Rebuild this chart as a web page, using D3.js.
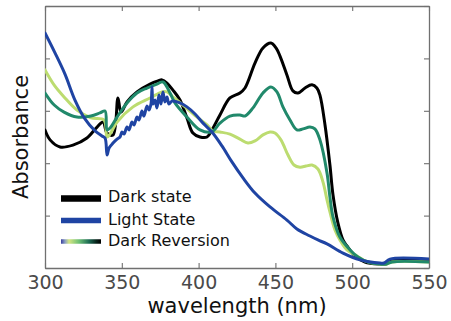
<!DOCTYPE html>
<html>
<head>
<meta charset="utf-8">
<script src="https://cdn.jsdelivr.net/npm/d3@7"></script>
<style>
  html, body { margin: 0; padding: 0; background: #fff; }
  svg { display: block; font-family: "DejaVu Sans", sans-serif; }
</style>
</head>
<body>
<svg id="chart" width="451" height="321"></svg>
<script>
// ---- data (wavelength nm, absorbance a.u.) ----
const xTicks = [300, 350, 400, 450, 500, 550];
const yTicks = [0, 0.2, 0.4, 0.6, 0.8, 1.0];
const seriesNames = ["Dark state", "Light State", "Dark Reversion"];

const darkWl  = [300,303.3,309.8,318.2,327.3,333.9,337.8,340.4,344.3,347.5,349.5,353.4,359.9,368.4,373.6,376.2,379.4,383.3,387.9,392.4,396.3,400.9,405.5,408.7,413.9,420.4,426.9,430.2,436.7,441.9,447.1,450.4,453,457.5,461.4,464.7,469.3,473.8,477,479,482.3,485.5,487.5,490.7,494,496.6,501.8,508.3,518.1,522,525.9,550];
const darkAbs = [.527,.489,.462,.469,.496,.538,.557,.515,.508,.649,.595,.634,.672,.702,.714,.718,.706,.679,.641,.573,.515,.500,.500,.527,.584,.649,.668,.687,.782,.840,.859,.840,.809,.737,.676,.668,.687,.699,.687,.660,.546,.393,.279,.172,.107,.084,.046,.023,.015,.015,.027,.027];

const lightWl  = [300,306.5,313,319.5,326,332.6,337.1,339.1,340.4,341.7,344.3,346.9,348.8,350.1,351.4,353.4,354.7,356.6,357.9,359.9,361.2,363.1,364.4,366.4,367.7,369,369.7,370.3,371.6,372.9,374.2,375.5,376.8,378.1,379.4,380.7,382.7,387.9,392.4,397.7,402.9,408.7,415.2,421.7,428.9,436.7,446.5,457.5,464,472.5,477.7,483.6,494,505.1,518.1,520.7,524.6,550];
const lightAbs = [.897,.821,.740,.641,.569,.523,.504,.496,.431,.458,.477,.492,.500,.519,.511,.538,.527,.557,.546,.576,.565,.599,.580,.618,.603,.626,.691,.626,.641,.611,.660,.626,.672,.634,.653,.626,.637,.630,.615,.588,.553,.519,.466,.405,.344,.286,.233,.183,.149,.122,.107,.092,.057,.031,.019,.019,.034,.034];

const revLateWl  = [300,306,312.4,320.8,329.9,335.8,339.1,340.4,342.3,346.9,353.4,359.9,366.4,372.9,376.8,381.4,384.6,392.4,400.9,408.7,413.9,420.4,426.9,430.2,435.4,441.9,447.1,451,454.9,459.5,464,468,472.5,475.7,479,483.6,485.5,487.5,492,498.6,503.7,510.3,518.1,522,525.9,550];
const revLateAbs = [.668,.622,.595,.576,.580,.592,.599,.527,.534,.576,.630,.668,.687,.702,.710,.668,.630,.576,.527,.520,.553,.580,.584,.580,.611,.668,.691,.672,.615,.565,.527,.531,.538,.531,.489,.363,.271,.195,.118,.069,.042,.023,.015,.015,.023,.023];

const revEarlyWl  = [300,306,312.4,320.8,329.9,338.4,340.4,342.3,346.9,357.3,368.4,376.2,379.4,383.3,389.8,399,405.5,409.4,413.9,420.4,426.9,432.1,436.7,441.9,446.5,449.7,453.6,458.2,462.1,466,469.9,473.8,477.7,481,483.6,485.5,488.8,492,496.6,503.1,508.3,518.1,522,525.9,550];
const revEarlyAbs = [.756,.698,.653,.603,.573,.565,.500,.511,.557,.615,.649,.672,.672,.653,.622,.576,.546,.523,.519,.511,.492,.477,.485,.508,.519,.515,.489,.431,.393,.385,.389,.393,.378,.328,.260,.214,.145,.107,.069,.046,.027,.015,.015,.023,.023];

// ---- layout ----
const W = 451, H = 321;
const m = {left: 45, right: 22, top: 6, bottom: 53};
const svg = d3.select("#chart");

const x = d3.scaleLinear().domain([300, 550]).range([m.left, W - m.right]);
const y = d3.scaleLinear().domain([0, 1]).range([H - m.bottom, m.top]);

const frameColor = "#707070";
const tickLen = 5;

function styleAxis(g) {
  g.selectAll(".domain").attr("stroke", frameColor).attr("stroke-width", 1.3);
  g.selectAll(".tick line").attr("stroke", frameColor).attr("stroke-width", 1.1);
}

svg.append("g").attr("transform", `translate(0,${H - m.bottom})`)
  .call(d3.axisBottom(x).tickValues(xTicks).tickSize(-tickLen).tickSizeOuter(0).tickPadding(8))
  .call(styleAxis)
  .call(g => g.selectAll(".tick text").attr("fill", "#4a4a4a").attr("font-size", 19).attr("font-family", "DejaVu Sans"));

svg.append("g").attr("transform", `translate(0,${m.top})`)
  .call(d3.axisTop(x).tickValues(xTicks).tickSize(-tickLen).tickSizeOuter(0).tickFormat(""))
  .call(styleAxis);

svg.append("g").attr("transform", `translate(${m.left},0)`)
  .call(d3.axisLeft(y).tickValues(yTicks).tickSize(-tickLen).tickSizeOuter(0).tickFormat(""))
  .call(styleAxis);

svg.append("g").attr("transform", `translate(${W - m.right},0)`)
  .call(d3.axisRight(y).tickValues(yTicks).tickSize(-tickLen).tickSizeOuter(0).tickFormat(""))
  .call(styleAxis);

// axis titles
svg.append("text")
  .attr("x", (m.left + W - m.right) / 2).attr("y", 313)
  .attr("text-anchor", "middle").attr("font-size", 21).attr("fill", "#111")
  .text("wavelength (nm)");

svg.append("text")
  .attr("transform", `translate(28,${(m.top + H - m.bottom) / 2}) rotate(-90)`)
  .attr("text-anchor", "middle").attr("font-size", 21).attr("fill", "#111")
  .text("Absorbance");

// ---- lines ----
const line = d3.line().x(d => x(d[0])).y(d => y(d[1])).curve(d3.curveCatmullRom.alpha(0.5));
const zip = (a, b) => a.map((v, i) => [v, b[i]]);

svg.append("clipPath").attr("id", "clip").append("rect")
  .attr("x", m.left).attr("y", m.top).attr("width", W - m.left - m.right).attr("height", H - m.top - m.bottom);

const plot = svg.append("g").attr("clip-path", "url(#clip)");
const series = [
  {data: zip(darkWl, darkAbs), color: "#000000"},
  {data: zip(revEarlyWl, revEarlyAbs), color: "#bcdc70"},
  {data: zip(revLateWl, revLateAbs), color: "#21896b"},
  {data: zip(lightWl, lightAbs), color: "#1f44a3"}
];
series.forEach(s => {
  plot.append("path").attr("d", line(s.data)).attr("fill", "none")
    .attr("stroke", s.color).attr("stroke-width", 3)
    .attr("stroke-linejoin", "round").attr("stroke-linecap", "round");
});

// ---- legend ----
const defs = svg.append("defs");
const grad = defs.append("linearGradient").attr("id", "revGrad").attr("x1", "0%").attr("x2", "100%");
[["0%", "#3a3fa0"], ["10%", "#8aa0c0"], ["20%", "#d4e683"], ["45%", "#6cbf74"], ["70%", "#1c6a52"], ["88%", "#06241b"], ["100%", "#000"]]
  .forEach(([o, c]) => grad.append("stop").attr("offset", o).attr("stop-color", c));

const legend = [
  {name: seriesNames[0], stroke: "#000", w: 6.5, ly: 198.5, ty: 202},
  {name: seriesNames[1], stroke: "#1f44a3", w: 5.5, ly: 220.5, ty: 225},
  {name: seriesNames[2], stroke: "url(#revGrad)", w: 4.5, ly: 241.5, ty: 246}
];
legend.forEach(l => {
  svg.append("rect").attr("x", 61).attr("y", l.ly - l.w / 2).attr("width", 40).attr("height", l.w)
    .attr("fill", l.stroke);
  svg.append("text").attr("x", 108).attr("y", l.ty).attr("font-size", 16).attr("fill", "#111").text(l.name);
});
</script>
</body>
</html>
